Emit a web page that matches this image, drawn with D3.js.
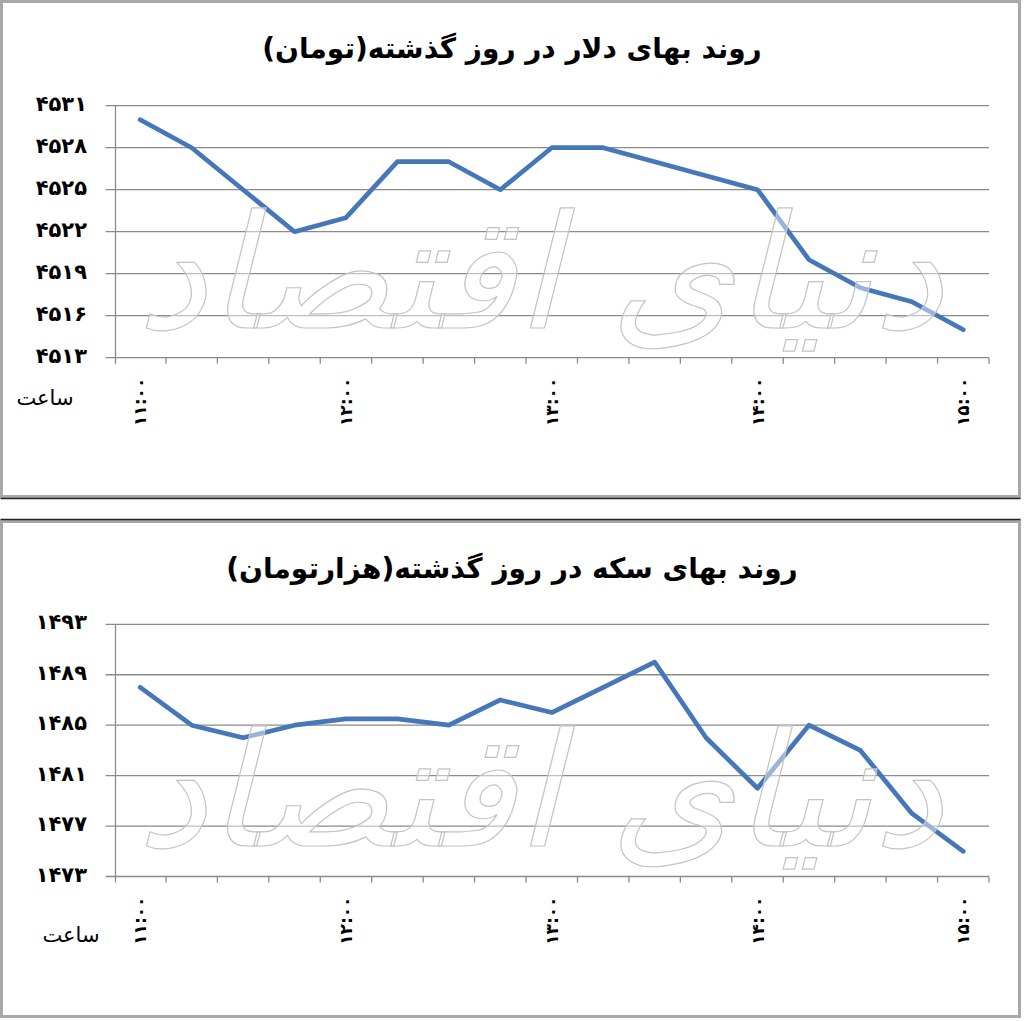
<!DOCTYPE html>
<html>
<head>
<meta charset="utf-8">
<script src="https://cdn.jsdelivr.net/npm/d3@7/dist/d3.min.js"></script>
<style>
  html, body { margin: 0; padding: 0; background: #ffffff; }
  svg { display: block; }
</style>
</head>
<body>
<svg id="chart" width="1024" height="1021"></svg>
<script>
// ---- data ----
const times = ["11:00","11:15","11:30","11:45","12:00","12:15","12:30","12:45","13:00","13:15","13:30","13:45","14:00","14:15","14:30","14:45","15:00"];
const timeLabels = ["۱۱:۰۰","","","","۱۲:۰۰","","","","۱۳:۰۰","","","","۱۴:۰۰","","","","۱۵:۰۰"];
const dollarValues = [4530, 4528, 4525, 4522, 4523, 4527, 4527, 4525, 4528, 4528, 4527, 4526, 4525, 4520, 4518, 4517, 4515];
const coinValues = [1488, 1485, 1484, 1485, 1485.5, 1485.5, 1485, 1487, 1486, 1488, 1490, 1484, 1480, 1485, 1483, 1478, 1475];
const dollarTicks = [4513, 4516, 4519, 4522, 4525, 4528, 4531];
const coinTicks = [1473, 1477, 1481, 1485, 1489, 1493];
const dollarTitle = "روند بهای دلار در روز گذشته(تومان)";
const coinTitle = "روند بهای سکه در روز گذشته(هزارتومان)";
const axisTitle = "ساعت";
const watermark = "دنیای اقتصاد";

const faDigits = "۰۱۲۳۴۵۶۷۸۹";
const toFa = s => String(s).replace(/[0-9]/g, d => faDigits[+d]);

const svg = d3.select("#chart");
const FONT = "'DejaVu Sans', sans-serif";

function panel(cfg) {
  const g = svg.append("g");
  // frame
  g.append("rect").attr("x", cfg.px).attr("y", cfg.py).attr("width", cfg.pw).attr("height", cfg.ph)
    .attr("fill", "#ffffff").attr("stroke", "#a8a8a8").attr("stroke-width", 3);
  g.append("line").attr("x1", cfg.px - 1).attr("x2", cfg.px + cfg.pw + 1)
    .attr("y1", cfg.darkY).attr("y2", cfg.darkY).attr("stroke", "#222").attr("stroke-width", 1.5);

  // title
  g.append("text").attr("x", 512).attr("y", cfg.titleY)
    .attr("text-anchor", "middle").attr("font-family", FONT).attr("font-weight", "bold")
    .attr("font-size", 28).attr("fill", "#000").attr("direction", "rtl")
    .text(cfg.title);

  const x = d3.scaleBand().domain(times).range([cfg.x0, cfg.x1]).paddingInner(0).paddingOuter(0);
  const y = d3.scaleLinear().domain([cfg.ticks[0], cfg.ticks[cfg.ticks.length - 1]]).range([cfg.yb, cfg.yt]);

  // gridlines
  g.append("g").selectAll("line").data(cfg.ticks).join("line")
    .attr("x1", cfg.x0 - 9).attr("x2", cfg.x1)
    .attr("y1", d => y(d)).attr("y2", d => y(d))
    .attr("stroke", "#8a8a8a").attr("stroke-width", 1.3);

  // y axis line
  g.append("line").attr("x1", cfg.x0 + 1).attr("x2", cfg.x0 + 1).attr("y1", cfg.yt).attr("y2", cfg.yb + 6)
    .attr("stroke", "#8a8a8a").attr("stroke-width", 1.3);

  // x tick marks at band boundaries
  const bounds = times.map(t => x(t)).concat([x(times[times.length - 1]) + x.bandwidth()]);
  g.append("g").selectAll("line").data(bounds.slice(1)).join("line")
    .attr("x1", d => d).attr("x2", d => d).attr("y1", cfg.yb).attr("y2", cfg.yb + 6)
    .attr("stroke", "#8a8a8a").attr("stroke-width", 1.3);

  // series line
  const line = d3.line().x((d, i) => x(times[i]) + x.bandwidth() / 2).y(d => y(d));
  g.append("path").datum(cfg.values).attr("d", line)
    .attr("fill", "none").attr("stroke", "#4677b9").attr("stroke-width", 4.7)
    .attr("stroke-linejoin", "round").attr("stroke-linecap", "round");

  // watermark over plot
  g.append("text").attr("x", 540).attr("y", cfg.yt + 222).attr("text-anchor", "middle")
    .attr("font-family", FONT).attr("font-size", 158).attr("font-style", "italic")
    .attr("fill", "#ffffff").attr("fill-opacity", 0.45)
    .attr("stroke", "#c4c4c4").attr("stroke-width", 1.2).attr("direction", "rtl")
    .text(watermark);

  // y labels
  g.append("g").selectAll("text").data(cfg.ticks).join("text")
    .attr("x", 87).attr("y", d => y(d) - 2)
    .attr("text-anchor", "end").attr("dominant-baseline", "central")
    .attr("font-family", FONT).attr("font-weight", "bold").attr("font-size", 21)
    .attr("letter-spacing", 8).attr("fill", "#000")
    .text(d => toFa(d));

  // x labels (rotated)
  g.append("g").selectAll("text").data(times.filter((t, i) => timeLabels[i] !== "")).join("text")
    .attr("transform", t => `translate(${x(t) + x.bandwidth() / 2 + 6},${cfg.yb + 20}) rotate(-90)`)
    .attr("text-anchor", "end")
    .attr("font-family", FONT).attr("font-weight", "bold").attr("font-size", 17)
    .attr("letter-spacing", 4).attr("fill", "#000")
    .text(t => timeLabels[times.indexOf(t)]);

  // axis title
  g.append("text").attr("x", cfg.axX).attr("y", cfg.axY).attr("text-anchor", "middle")
    .attr("font-family", FONT).attr("font-size", 21).attr("fill", "#000").attr("direction", "rtl")
    .text(axisTitle);
}

panel({
  px: 1.5, py: 1.5, pw: 1018, ph: 495, darkY: 498.5,
  title: dollarTitle, titleY: 58,
  x0: 114.5, x1: 989, yt: 105.7, yb: 357.7,
  ticks: dollarTicks, values: dollarValues,
  axX: 45, axY: 405
});

panel({
  px: 1.5, py: 521.5, pw: 1018, ph: 495, darkY: 519.5,
  title: coinTitle, titleY: 578,
  x0: 114.5, x1: 989, yt: 624.3, yb: 876.5,
  ticks: coinTicks, values: coinValues,
  axX: 71, axY: 942
});
</script>
</body>
</html>
